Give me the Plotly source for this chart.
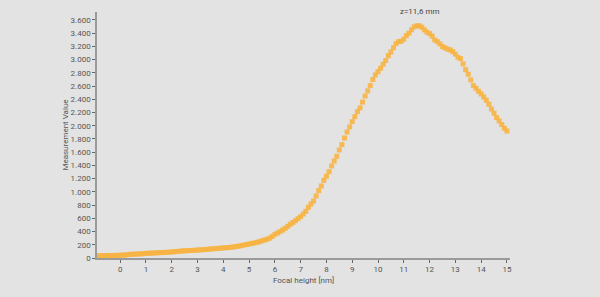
import plotly.graph_objects as go

focal_height = [
    -0.9, -0.8, -0.7, -0.6, -0.5, -0.4, -0.3, -0.2, -0.1,
    0.0, 0.1, 0.2, 0.3, 0.4, 0.5, 0.6, 0.7, 0.8, 0.9,
    1.0, 1.1, 1.2, 1.3, 1.4, 1.5, 1.6, 1.7, 1.8, 1.9,
    2.0, 2.1, 2.2, 2.3, 2.4, 2.5, 2.6, 2.7, 2.8, 2.9,
    3.0, 3.1, 3.2, 3.3, 3.4, 3.5, 3.6, 3.7, 3.8, 3.9,
    4.0, 4.1, 4.2, 4.3, 4.4, 4.5, 4.6, 4.7, 4.8, 4.9,
    5.0, 5.1, 5.2, 5.3, 5.4, 5.5, 5.6, 5.7, 5.8, 5.9,
    6.0, 6.1, 6.2, 6.3, 6.4, 6.5, 6.6, 6.7, 6.8, 6.9,
    7.0, 7.1, 7.2, 7.3, 7.4, 7.5, 7.6, 7.7, 7.8, 7.9,
    8.0, 8.1, 8.2, 8.3, 8.4, 8.5, 8.6, 8.7, 8.8, 8.9,
    9.0, 9.1, 9.2, 9.3, 9.4, 9.5, 9.6, 9.7, 9.8, 9.9,
    10.0, 10.1, 10.2, 10.3, 10.4, 10.5, 10.6, 10.7, 10.8, 10.9,
    11.0, 11.1, 11.2, 11.3, 11.4, 11.5, 11.6, 11.7, 11.8, 11.9,
    12.0, 12.1, 12.2, 12.3, 12.4, 12.5, 12.6, 12.7, 12.8, 12.9,
    13.0, 13.1, 13.2, 13.3, 13.4, 13.5, 13.6, 13.7, 13.8, 13.9,
    14.0, 14.1, 14.2, 14.3, 14.4, 14.5, 14.6, 14.7, 14.8, 14.9,
    15.0,
]

measurement = [
    32, 33, 34, 35, 36, 37, 38, 39, 40,
    42, 44, 46, 52, 55, 57, 59, 61, 63, 66,
    70, 72, 74, 76, 78, 80, 82, 84, 86, 88,
    92, 95, 98, 102, 106, 109, 111, 113, 115, 117,
    120, 123, 126, 129, 132, 136, 139, 142, 145, 148,
    153, 156, 159, 162, 168, 174, 180, 188, 196, 204,
    212, 220, 228, 237, 247, 260, 272, 285, 300, 325,
    358, 378, 398, 423, 449, 478, 510, 538, 565, 595,
    625, 665, 706, 767, 817, 862, 938, 1018, 1089, 1175,
    1236, 1306, 1392, 1467, 1539, 1634, 1714, 1815, 1906, 1982,
    2062, 2138, 2213, 2270, 2358, 2450, 2528, 2607, 2698, 2768,
    2818, 2870, 2930, 2985, 3060, 3116, 3181, 3242, 3272, 3278,
    3309, 3363, 3400, 3450, 3495, 3510, 3512, 3490, 3450, 3414,
    3394, 3356, 3298, 3273, 3237, 3197, 3177, 3157, 3147, 3121,
    3082, 3036, 3015, 2935, 2849, 2779, 2693, 2607, 2567, 2522,
    2481, 2436, 2386, 2325, 2254, 2189, 2123, 2073, 2017, 1962,
    1921,
]

x_ticks = list(range(0, 16))
y_ticks = list(range(0, 3601, 200))
peak_x = 11.6
peak_label = "z=11,6 mm"

bg = "#e3e3e3"
axis_col = "#9a9a9a"
text_col = "#555555"

fig = go.Figure()
fig.add_trace(go.Scatter(
    x=focal_height, y=measurement, mode="markers",
    marker=dict(symbol="square", size=5, color="#f7b442", opacity=0.9,
                line=dict(width=0)),
    hoverinfo="x+y", showlegend=False,
))

fig.add_annotation(x=peak_x, y=3512, text=peak_label, showarrow=False,
                   yshift=14, font=dict(size=8, color="#444444"))

fig.update_layout(
    width=600, height=297,
    paper_bgcolor=bg, plot_bgcolor=bg,
    margin=dict(l=97, r=90, t=12, b=39),
    separators=",.",
    font=dict(family="Roboto, DejaVu Sans, sans-serif", size=8, color=text_col),
    xaxis=dict(
        range=[-0.9, 15.12], tickvals=x_ticks, showgrid=False, zeroline=False,
        showline=True, linecolor=axis_col, linewidth=1.5,
        ticks="outside", ticklen=3, tickcolor="#666666", tickwidth=1,
        title=dict(text="Focal height [nm]", font=dict(size=8, color=text_col), standoff=4),
        tickfont=dict(size=8, color=text_col),
    ),
    yaxis=dict(
        range=[0, 3720], tickvals=y_ticks, tickformat=",d", showgrid=False, zeroline=False,
        showline=True, linecolor=axis_col, linewidth=1.5,
        ticks="outside", ticklen=3, tickcolor="#666666", tickwidth=1,
        title=dict(text="Measurement Value", font=dict(size=8, color=text_col), standoff=1),
        tickfont=dict(size=8, color=text_col),
    ),
)

fig.write_html("out.html")
